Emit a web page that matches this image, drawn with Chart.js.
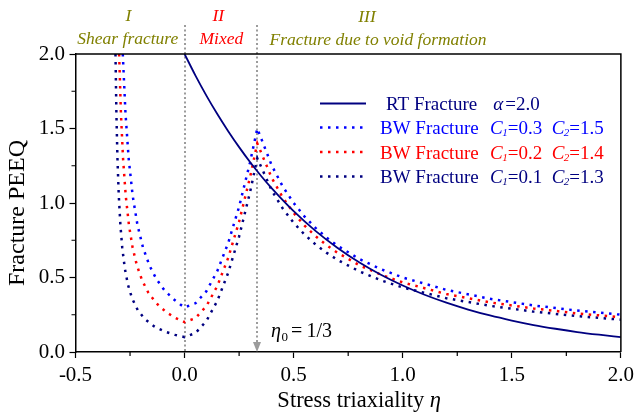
<!DOCTYPE html>
<html><head><meta charset="utf-8">
<script src="https://cdn.jsdelivr.net/npm/chart.js@4/dist/chart.umd.min.js"></script>
<style>html,body{margin:0;padding:0;background:#fff;overflow:hidden}</style>
</head><body>
<canvas id="c" width="639" height="414"></canvas>
<script>
// ---- data ----
const rtEta  = [0, 0.05, 0.1, 0.15, 0.2, 0.25, 0.3, 0.35, 0.4, 0.5, 0.6, 0.7, 0.8, 0.9, 1.0, 1.1, 1.2, 1.3, 1.4, 1.5, 1.6, 1.7, 1.8, 1.9, 2.0];
const rtPeeq = [2.000, 1.855, 1.721, 1.597, 1.482, 1.375, 1.275, 1.183, 1.098, 0.945, 0.813, 0.700, 0.602, 0.518, 0.446, 0.384, 0.331, 0.285, 0.245, 0.211, 0.181, 0.156, 0.134, 0.116, 0.100];

const midEta   = [0, 0.05, 0.1, 0.15, 0.2, 0.25, 0.3, 0.3333];
const rightEta = [0.4, 0.45, 0.5, 0.55, 0.6, 0.65, 0.7, 0.8, 0.9, 1.0, 1.2, 1.4, 1.6, 1.8, 2.0];

// BW C1=0.3 C2=1.5 (blue)
const bwBlueLeftEta   = [-0.2833, -0.2708, -0.2564, -0.2381, -0.2157, -0.1905, -0.1609, -0.1293, -0.0952, -0.0556, -0.0208];
const bwBlueLeftPeeq  = [2.0, 1.6, 1.3, 1.05, 0.85, 0.7, 0.58, 0.49, 0.42, 0.36, 0.32];
const bwBlueMidPeeq   = [0.3, 0.327, 0.408, 0.543, 0.732, 0.975, 1.272, 1.5];
const bwBlueRightPeeq = [1.25, 1.111, 1.0, 0.909, 0.833, 0.769, 0.714, 0.625, 0.556, 0.5, 0.417, 0.357, 0.3125, 0.278, 0.25];

// BW C1=0.2 C2=1.4 (red)
const bwRedLeftEta   = [-0.3, -0.2917, -0.2821, -0.2698, -0.2549, -0.2381, -0.2184, -0.1944, -0.1667, -0.1313, -0.0864, -0.0435];
const bwRedLeftPeeq  = [2.0, 1.6, 1.3, 1.05, 0.85, 0.7, 0.58, 0.48, 0.4, 0.33, 0.27, 0.23];
const bwRedMidPeeq   = [0.2, 0.227, 0.308, 0.443, 0.632, 0.875, 1.172, 1.4];
const bwRedRightPeeq = [1.167, 1.037, 0.933, 0.848, 0.778, 0.718, 0.667, 0.583, 0.519, 0.467, 0.389, 0.333, 0.292, 0.259, 0.233];

// BW C1=0.1 C2=1.3 (navy)
const bwNavyLeftEta   = [-0.3167, -0.3125, -0.3077, -0.3016, -0.2941, -0.2857, -0.2738, -0.2593, -0.2407, -0.2143, -0.1818, -0.1373, -0.0864, -0.0435];
const bwNavyLeftPeeq  = [2.0, 1.6, 1.3, 1.05, 0.85, 0.7, 0.56, 0.45, 0.36, 0.28, 0.22, 0.17, 0.135, 0.115];
const bwNavyMidPeeq   = [0.1, 0.127, 0.208, 0.343, 0.532, 0.775, 1.072, 1.3];
const bwNavyRightPeeq = [1.083, 0.963, 0.867, 0.788, 0.722, 0.667, 0.619, 0.542, 0.481, 0.433, 0.361, 0.310, 0.271, 0.241, 0.217];

const xTicksMajor = [-0.5, 0.0, 0.5, 1.0, 1.5, 2.0];
const yTicksMajor = [0.0, 0.5, 1.0, 1.5, 2.0];
const xTicksMinor = [-0.25, 0.25, 0.75, 1.25, 1.75];
const yTicksMinor = [0.25, 0.75, 1.25, 1.75];
const regionBounds = [0, 0.3333];

const legendRows = [
  {label: 'RT Fracture', p1: ['α', '', '=2.0'], color: '#000080', dashed: false},
  {label: 'BW Fracture', p1: ['C', '1', '=0.3'], p2: ['C', '2', '=1.5'], color: '#0000ff', dashed: true},
  {label: 'BW Fracture', p1: ['C', '1', '=0.2'], p2: ['C', '2', '=1.4'], color: '#ff0000', dashed: true},
  {label: 'BW Fracture', p1: ['C', '1', '=0.1'], p2: ['C', '2', '=1.3'], color: '#000080', dashed: true}
];

// ---- build ----
const pts = (xs, ys) => xs.map((x, i) => ({x, y: ys[i]}));
const bw = (le, lp, mp, rp) => pts(le.concat(midEta, rightEta), lp.concat(mp, rp));

const SERIF = '"Liberation Serif", "Times New Roman", serif';
const DOT = [2.5, 5.5];

const deco = {
  id: 'deco',
  beforeDatasetsDraw(chart) {
    const {ctx, chartArea: a, scales: {x}} = chart;
    ctx.save();
    ctx.strokeStyle = '#9c9c9c';
    ctx.lineWidth = 2;
    ctx.setLineDash([2, 2.5]);
    regionBounds.forEach((v, i) => {
      const px = Math.round(x.getPixelForValue(v));
      ctx.beginPath();
      ctx.moveTo(px, 25);
      ctx.lineTo(px, a.bottom - (i === 1 ? 8 : 0));
      ctx.stroke();
    });
    // arrow head at eta0
    const ax = Math.round(x.getPixelForValue(regionBounds[1]));
    ctx.setLineDash([]);
    ctx.fillStyle = '#9c9c9c';
    ctx.beginPath();
    ctx.moveTo(ax - 4, a.bottom - 10);
    ctx.lineTo(ax + 4, a.bottom - 10);
    ctx.lineTo(ax, a.bottom);
    ctx.closePath();
    ctx.fill();
    ctx.restore();
  },
  afterDraw(chart) {
    const {ctx, chartArea: a, scales: {x, y}} = chart;
    ctx.save();
    // box top/right
    ctx.strokeStyle = '#000';
    ctx.lineWidth = 1.5;
    ctx.beginPath();
    ctx.moveTo(a.left, a.top); ctx.lineTo(a.right, a.top); ctx.lineTo(a.right, a.bottom);
    ctx.stroke();
    // minor ticks
    ctx.lineWidth = 1.2;
    ctx.beginPath();
    xTicksMinor.forEach(v => { const p = x.getPixelForValue(v); ctx.moveTo(p, a.bottom); ctx.lineTo(p, a.bottom + 4); });
    yTicksMinor.forEach(v => { const p = y.getPixelForValue(v); ctx.moveTo(a.left, p); ctx.lineTo(a.left - 4, p); });
    ctx.stroke();

    // axis titles
    ctx.fillStyle = '#000';
    ctx.textBaseline = 'alphabetic';
    ctx.textAlign = 'left';
    ctx.font = '22.5px ' + SERIF;
    const t1 = 'Stress triaxiality ';
    const w1 = ctx.measureText(t1).width;
    ctx.font = 'italic 22.5px ' + SERIF;
    const w2 = ctx.measureText('η').width;
    let sx = (a.left + a.right) / 2 + 11 - (w1 + w2) / 2;
    ctx.font = '22.5px ' + SERIF;
    ctx.fillText(t1, sx, 407);
    ctx.font = 'italic 22.5px ' + SERIF;
    ctx.fillText('η', sx + w1, 407);

    ctx.save();
    ctx.translate(23.5, 213);
    ctx.rotate(-Math.PI / 2);
    ctx.textAlign = 'center';
    ctx.font = '24px ' + SERIF;
    ctx.fillText('Fracture PEEQ', 0, 0);
    ctx.restore();

    // region labels
    ctx.textAlign = 'center';
    ctx.font = 'italic 17.5px ' + SERIF;
    ctx.fillStyle = '#808000';
    ctx.fillText('I', 128.3, 21);
    ctx.fillText('Shear fracture', 127.8, 44);
    ctx.fillText('III', 367, 21.5);
    ctx.fillText('Fracture due to void formation', 378, 45);
    ctx.fillStyle = '#ff0000';
    ctx.fillText('II', 218.3, 21);
    ctx.fillText('Mixed', 221.3, 44);

    // eta0 label
    ctx.textAlign = 'left';
    ctx.fillStyle = '#000';
    ctx.font = 'italic 20px ' + SERIF;
    ctx.fillText('η', 271, 336.7);
    ctx.font = '13px ' + SERIF;
    ctx.fillText('0', 281.5, 340.5);
    ctx.font = '20px ' + SERIF;
    ctx.fillText('=', 291, 336.7);
    ctx.fillText('1/3', 306.5, 336.7);

    // legend
    const baselines = [110, 134, 158.5, 183];
    legendRows.forEach((r, i) => {
      const by = baselines[i];
      const ly = by - 6.5;
      ctx.strokeStyle = r.color;
      ctx.lineWidth = r.dashed ? 2.5 : 2;
      ctx.setLineDash(r.dashed ? DOT : []);
      ctx.beginPath();
      ctx.moveTo(320, ly); ctx.lineTo(366, ly);
      ctx.stroke();
      ctx.setLineDash([]);
      ctx.fillStyle = r.color;
      ctx.font = '19px ' + SERIF;
      ctx.fillText(r.label, r.dashed ? 380 : 386, by);
      const drawParam = (p, px) => {
        ctx.font = 'italic 19px ' + SERIF;
        ctx.fillText(p[0], px, by);
        px += ctx.measureText(p[0]).width;
        if (p[1]) {
          ctx.font = 'italic 11px ' + SERIF;
          ctx.fillText(p[1], px - 0.5, by + 2);
          px += ctx.measureText(p[1]).width - 0.5;
        } else {
          px += 2;
        }
        ctx.font = '19px ' + SERIF;
        ctx.fillText(p[2], px, by);
      };
      drawParam(r.p1, r.dashed ? 490 : 493.3);
      if (r.p2) drawParam(r.p2, 551.7);
    });
    ctx.restore();
  }
};

new Chart(document.getElementById('c'), {
  type: 'line',
  data: {
    datasets: [
      {label: 'RT Fracture α=2.0', data: pts(rtEta, rtPeeq), borderColor: '#000080', borderWidth: 1.8, pointRadius: 0, cubicInterpolationMode: 'monotone', fill: false},
      {label: 'BW Fracture C1=0.3 C2=1.5', data: bw(bwBlueLeftEta, bwBlueLeftPeeq, bwBlueMidPeeq, bwBlueRightPeeq), borderColor: '#0000ff', borderWidth: 2.5, borderDash: DOT, pointRadius: 0, tension: 0, fill: false},
      {label: 'BW Fracture C1=0.2 C2=1.4', data: bw(bwRedLeftEta, bwRedLeftPeeq, bwRedMidPeeq, bwRedRightPeeq), borderColor: '#ff0000', borderWidth: 2.5, borderDash: DOT, pointRadius: 0, tension: 0, fill: false},
      {label: 'BW Fracture C1=0.1 C2=1.3', data: bw(bwNavyLeftEta, bwNavyLeftPeeq, bwNavyMidPeeq, bwNavyRightPeeq), borderColor: '#000080', borderWidth: 2.5, borderDash: DOT, pointRadius: 0, tension: 0, fill: false}
    ]
  },
  options: {
    responsive: false,
    devicePixelRatio: 1,
    animation: false,
    layout: {padding: {left: 0, right: 16, top: 54, bottom: 0}},
    plugins: {legend: {display: false}, tooltip: {enabled: false}},
    scales: {
      x: {
        type: 'linear', min: -0.5, max: 2.0,
        afterBuildTicks: s => { s.ticks = xTicksMajor.map(v => ({value: v})); },
        afterFit: s => { s.height = 62; },
        grid: {drawOnChartArea: false, drawTicks: true, tickLength: 6, tickColor: '#000', tickWidth: 1.2},
        border: {display: true, color: '#000', width: 1.5},
        ticks: {color: '#000', font: {family: SERIF, size: 21}, padding: 5, maxRotation: 0, callback: v => v.toFixed(1)}
      },
      y: {
        type: 'linear', min: 0, max: 2.0,
        afterBuildTicks: s => { s.ticks = yTicksMajor.map(v => ({value: v})); },
        afterFit: s => { s.width = 75.5; },
        grid: {drawOnChartArea: false, drawTicks: true, tickLength: 6, tickColor: '#000', tickWidth: 1.2},
        border: {display: true, color: '#000', width: 1.5},
        ticks: {color: '#000', font: {family: SERIF, size: 21}, padding: 4.5, callback: v => v.toFixed(1)}
      }
    }
  },
  plugins: [deco]
});
</script>
</body></html>
